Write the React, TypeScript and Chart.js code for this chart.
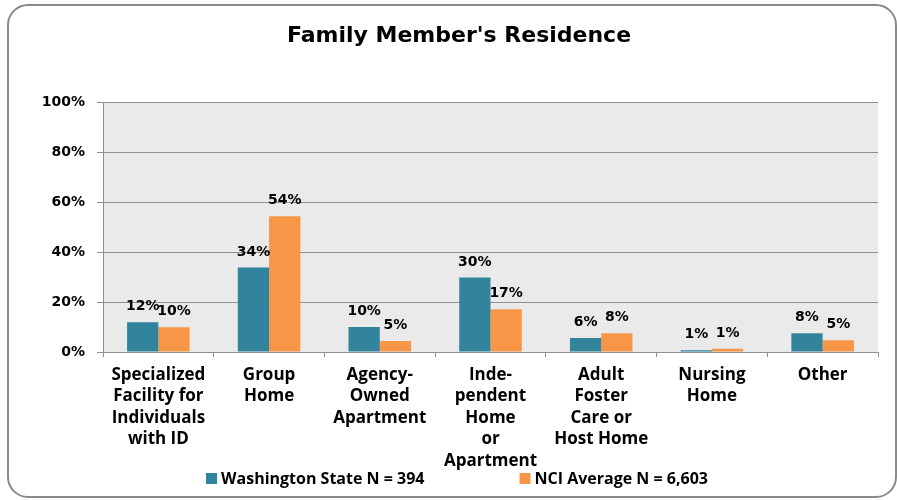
import { useEffect, useRef } from "react";
import { Chart, registerables } from "chart.js";

Chart.register(...registerables);

const TITLE = "Family Member's Residence";
const CATEGORIES: string[][] = [
  ["Specialized", "Facility for", "Individuals", "with ID"],
  ["Group", "Home"],
  ["Agency-", "Owned", "Apartment"],
  ["Inde-", "pendent", "Home", "or", "Apartment"],
  ["Adult", "Foster", "Care or", "Host Home"],
  ["Nursing", "Home"],
  ["Other"],
];
const SERIES_NAMES = ["Washington State N = 394", "NCI Average N = 6,603"];
const WA_VALUES = [11.9, 33.8, 10.0, 29.8, 5.6, 0.7, 7.5];
const NCI_VALUES = [9.9, 54.3, 4.4, 17.1, 7.5, 1.3, 4.7];
const WA_LABELS = ["12%", "34%", "10%", "30%", "6%", "1%", "8%"];
const NCI_LABELS = ["10%", "54%", "5%", "17%", "8%", "1%", "5%"];
const Y_MIN = 0;
const Y_MAX = 100;
const Y_STEP = 20;

const WA_COLOR = "#31849B";
const NCI_COLOR = "#F79646";
const GRID_COLOR = "#8f8f8f";
const PLOT_BG = "#EAEAEA";

const DATA_LABELS = [WA_LABELS, NCI_LABELS];

const decorPlugin = {
  id: "decor",
  beforeDraw(chart: any) {
    const { ctx, chartArea } = chart;
    ctx.save();
    ctx.fillStyle = "#ffffff";
    ctx.fillRect(0, 0, chart.width, chart.height);
    // rounded frame
    const x = 8, y = 5, w = 888, h = 492, r = 20;
    ctx.beginPath();
    ctx.moveTo(x + r, y);
    ctx.lineTo(x + w - r, y);
    ctx.arcTo(x + w, y, x + w, y + r, r);
    ctx.lineTo(x + w, y + h - r);
    ctx.arcTo(x + w, y + h, x + w - r, y + h, r);
    ctx.lineTo(x + r, y + h);
    ctx.arcTo(x, y + h, x, y + h - r, r);
    ctx.lineTo(x, y + r);
    ctx.arcTo(x, y, x + r, y, r);
    ctx.closePath();
    ctx.lineWidth = 2;
    ctx.strokeStyle = "#8a8a8a";
    ctx.stroke();
    // plot background
    ctx.fillStyle = PLOT_BG;
    ctx.fillRect(chartArea.left, chartArea.top, chartArea.right - chartArea.left, chartArea.bottom - chartArea.top);
    ctx.restore();
  },
  afterDatasetsDraw(chart: any) {
    const { ctx } = chart;
    ctx.save();
    ctx.font = "bold 14px 'DejaVu Sans'";
    ctx.fillStyle = "#000";
    ctx.textAlign = "center";
    ctx.textBaseline = "alphabetic";
    chart.data.datasets.forEach((_ds: any, di: number) => {
      const meta = chart.getDatasetMeta(di);
      meta.data.forEach((el: any, i: number) => {
        ctx.fillText(DATA_LABELS[di][i], el.x, el.y - 12);
      });
    });
    ctx.restore();
  },
  afterDraw(chart: any) {
    const { ctx } = chart;
    ctx.save();
    // title
    ctx.font = "bold 22px 'DejaVu Sans'";
    ctx.fillStyle = "#000";
    ctx.textAlign = "center";
    ctx.textBaseline = "alphabetic";
    ctx.fillText(TITLE, 459, 42);
    // legend
    ctx.font = "bold 16px 'Open Sans'";
    ctx.textAlign = "left";
    const box = 11, gap = 4, itemGap = 95;
    const colors = [WA_COLOR, NCI_COLOR];
    const widths = SERIES_NAMES.map((s) => ctx.measureText(s).width);
    const total = widths.reduce((a, b) => a + b, 0) + 2 * (box + gap) + itemGap;
    let cx = 457 - total / 2;
    const baseline = 484;
    SERIES_NAMES.forEach((name, i) => {
      ctx.fillStyle = colors[i];
      ctx.fillRect(cx, baseline - 11, box, box);
      cx += box + gap;
      ctx.fillStyle = "#000";
      ctx.fillText(name, cx, baseline);
      cx += widths[i] + itemGap;
    });
    ctx.restore();
  },
};

export default function App() {
  const ref = useRef<HTMLCanvasElement | null>(null);
  useEffect(() => {
    document.body.style.margin = "0";
    if (!ref.current) return;
    const chart = new Chart(ref.current, {
      type: "bar",
      data: {
        labels: CATEGORIES,
        datasets: [
          {
            label: SERIES_NAMES[0],
            data: WA_VALUES,
            backgroundColor: WA_COLOR,
            categoryPercentage: 0.565,
            barPercentage: 1,
          },
          {
            label: SERIES_NAMES[1],
            data: NCI_VALUES,
            backgroundColor: NCI_COLOR,
            categoryPercentage: 0.565,
            barPercentage: 1,
          },
        ],
      },
      options: {
        animation: false,
        responsive: false,
        devicePixelRatio: 1,
        layout: { padding: { left: 0, right: 19, top: 102, bottom: 0 } },
        plugins: {
          legend: { display: false },
          title: { display: false },
          tooltip: { enabled: false },
        },
        scales: {
          x: {
            afterFit: (s: any) => {
              s.height = 148;
            },
            grid: {
              display: true,
              drawOnChartArea: false,
              drawTicks: true,
              tickLength: 5,
              color: GRID_COLOR,
              offset: true,
            },
            border: { display: true, color: GRID_COLOR },
            ticks: {
              autoSkip: false,
              maxRotation: 0,
              minRotation: 0,
              padding: 7,
              color: "#000",
              font: { family: "'Open Sans'", size: 17, weight: "bold", lineHeight: "21.5px" },
            },
          },
          y: {
            min: Y_MIN,
            max: Y_MAX,
            afterFit: (s: any) => {
              s.width = 103;
            },
            grid: { color: GRID_COLOR, tickLength: 6, drawTicks: true },
            border: { display: true, color: GRID_COLOR },
            ticks: {
              stepSize: Y_STEP,
              padding: 12,
              color: "#000",
              font: { family: "'DejaVu Sans'", size: 14, weight: "bold" },
              callback: (v: any) => `${v}%`,
            },
          },
        },
      },
      plugins: [decorPlugin],
    } as any);
    return () => chart.destroy();
  }, []);
  return <canvas ref={ref} width={897} height={500} style={{ display: "block" }} />;
}
